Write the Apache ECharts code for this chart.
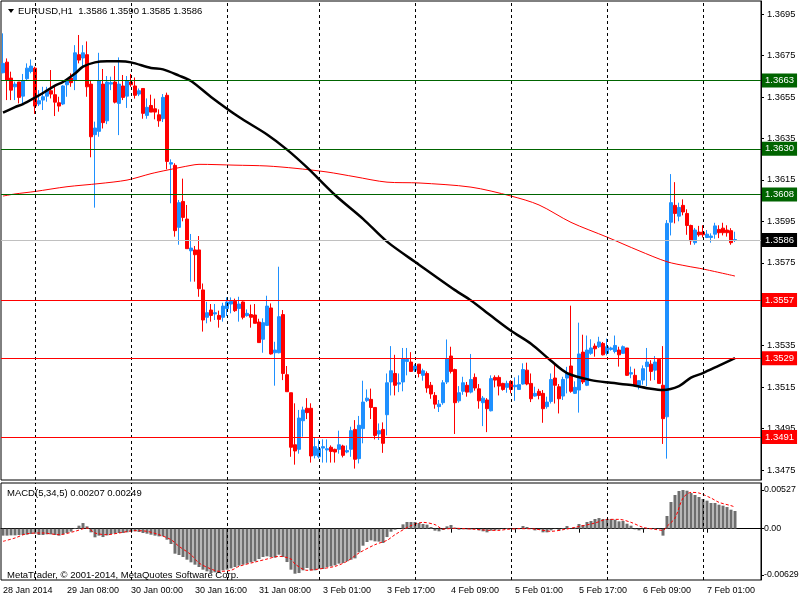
<!DOCTYPE html>
<html><head><meta charset="utf-8">
<script src="https://cdn.jsdelivr.net/npm/echarts@6/dist/echarts.min.js"></script>
<style>html,body{margin:0;padding:0;background:#fff}#c{width:800px;height:600px}</style>
</head><body><div id="c"></div>
<script>
// ---- OHLC (EURUSD H1), bar 0 = 28 Jan 16:00 ----
const opens=[1.36667,1.36718,1.36641,1.36599,1.36622,1.36554,1.36638,1.36673,1.36689,1.36516,
1.36535,1.36554,1.36580,1.36561,1.36522,1.36516,1.36609,1.36641,1.36632,1.36754,
1.36738,1.36754,1.36612,1.36368,1.36384,1.36612,1.36435,1.36612,1.36622,1.36519,
1.36603,1.36554,1.36622,1.36603,1.36564,1.36591,1.36461,1.36509,1.36493,1.36464,
1.36445,1.36558,1.36226,1.36220,1.35921,1.36046,1.35961,1.35808,1.35812,1.35812,
1.35619,1.35487,1.35522,1.35503,1.35496,1.35487,1.35529,1.35551,1.35564,1.35529,
1.35561,1.35495,1.35500,1.35498,1.35464,1.35381,1.35448,1.35532,1.35316,1.35316,
1.35500,1.35210,1.35123,1.34872,1.34850,1.34988,1.35048,1.35048,1.34821,1.34814,
1.34856,1.34847,1.34860,1.34850,1.34850,1.34866,1.34837,1.34850,1.34946,1.34805,
1.34950,1.35085,1.35091,1.35052,1.34924,1.34946,1.35017,1.35175,1.35216,1.35165,
1.35175,1.35274,1.35271,1.35232,1.35261,1.35207,1.35216,1.35159,1.35110,1.35056,
1.35075,1.35175,1.35300,1.35235,1.35084,1.35130,1.35159,1.35126,1.35197,1.35142,
1.35075,1.35088,1.35036,1.35197,1.35197,1.35168,1.35149,1.35178,1.35152,1.35139,
1.35165,1.35232,1.35168,1.35107,1.35130,1.35120,1.35056,1.35081,1.35194,1.35152,
1.35107,1.35194,1.35252,1.35120,1.35136,1.35319,1.35159,1.35313,1.35348,1.35345,
1.35361,1.35313,1.35332,1.35322,1.35329,1.35313,1.35339,1.35213,1.35207,1.35159,
1.35184,1.35249,1.35261,1.35232,1.35284,1.35159,1.35007,1.35946,1.36027,1.35975,
1.36027,1.35988,1.35930,1.35847,1.35898,1.35898,1.35872,1.35872,1.35888,1.35911,
1.35917,1.35908,1.35905,1.35860];
const highs=[1.36857,1.36736,1.36672,1.36624,1.36622,1.36661,1.36712,1.36731,1.36696,1.36583,
1.36599,1.36599,1.36680,1.36599,1.36551,1.36607,1.36632,1.36664,1.36800,1.36849,
1.36800,1.36818,1.36632,1.36431,1.36763,1.36685,1.36651,1.36648,1.36699,1.36741,
1.36656,1.36651,1.36661,1.36644,1.36591,1.36591,1.36543,1.36561,1.36542,1.36490,
1.36564,1.36571,1.36249,1.36230,1.36053,1.36156,1.36029,1.35889,1.35831,1.35879,
1.35650,1.35562,1.35551,1.35551,1.35519,1.35557,1.35583,1.35583,1.35577,1.35586,
1.35564,1.35525,1.35548,1.35551,1.35480,1.35482,1.35591,1.35554,1.35369,1.35731,
1.35522,1.35252,1.35123,1.35072,1.35040,1.35056,1.35097,1.35072,1.34908,1.34898,
1.34898,1.34898,1.34869,1.34853,1.34940,1.34872,1.34869,1.34959,1.34991,1.35011,
1.35181,1.35139,1.35143,1.35052,1.34975,1.34980,1.35216,1.35348,1.35306,1.35216,
1.35339,1.35339,1.35319,1.35261,1.35261,1.35239,1.35226,1.35175,1.35126,1.35088,
1.35184,1.35380,1.35345,1.35239,1.35155,1.35200,1.35175,1.35310,1.35216,1.35165,
1.35107,1.35097,1.35207,1.35207,1.35207,1.35171,1.35181,1.35184,1.35197,1.35207,
1.35265,1.35268,1.35216,1.35152,1.35142,1.35136,1.35104,1.35216,1.35265,1.35165,
1.35200,1.35248,1.35543,1.35178,1.35461,1.35403,1.35399,1.35381,1.35361,1.35393,
1.35368,1.35384,1.35345,1.35399,1.35345,1.35351,1.35339,1.35249,1.35239,1.35184,
1.35255,1.35339,1.35280,1.35300,1.35284,1.35348,1.35956,1.36178,1.36139,1.36040,
1.36056,1.36008,1.35934,1.35918,1.35928,1.35931,1.35908,1.35892,1.35943,1.35931,
1.35943,1.35931,1.35917,1.35900];
const lows=[1.36664,1.36535,1.36535,1.36535,1.36519,1.36513,1.36632,1.36664,1.36468,1.36506,
1.36487,1.36527,1.36543,1.36458,1.36479,1.36511,1.36551,1.36599,1.36583,1.36712,
1.36696,1.36551,1.36259,1.36016,1.36358,1.36398,1.36419,1.36583,1.36519,1.36366,
1.36535,1.36497,1.36599,1.36542,1.36554,1.36445,1.36445,1.36477,1.36442,1.36406,
1.36429,1.36201,1.36037,1.35876,1.35837,1.35950,1.35818,1.35659,1.35659,1.35586,
1.35418,1.35458,1.35466,1.35474,1.35437,1.35466,1.35493,1.35506,1.35513,1.35466,
1.35477,1.35490,1.35437,1.35458,1.35365,1.35316,1.35445,1.35307,1.35157,1.35313,
1.35184,1.35128,1.34814,1.34776,1.34829,1.34911,1.34996,1.34786,1.34806,1.34806,
1.34786,1.34786,1.34786,1.34786,1.34829,1.34811,1.34831,1.34814,1.34757,1.34782,
1.34879,1.35078,1.34996,1.34898,1.34895,1.34833,1.34917,1.35110,1.35110,1.35126,
1.35130,1.35207,1.35223,1.35223,1.35197,1.35181,1.35123,1.35094,1.35046,1.35030,
1.35065,1.35165,1.35216,1.34924,1.35075,1.35113,1.35104,1.35120,1.35133,1.35046,
1.34962,1.34933,1.35033,1.35149,1.35110,1.35133,1.35123,1.35120,1.35084,1.35136,
1.35162,1.35159,1.35078,1.35104,1.35091,1.34978,1.35046,1.35071,1.35071,1.35023,
1.35088,1.35120,1.35123,1.35117,1.35027,1.35165,1.35155,1.35306,1.35297,1.35339,
1.35303,1.35303,1.35326,1.35313,1.35249,1.35310,1.35204,1.35193,1.35159,1.35139,
1.35162,1.35155,1.35181,1.35184,1.35168,1.34876,1.34805,1.35882,1.35940,1.35950,
1.35979,1.35885,1.35837,1.35837,1.35876,1.35872,1.35869,1.35847,1.35866,1.35869,
1.35882,1.35876,1.35837,1.35850];
const closes=[1.36712,1.36632,1.36583,1.36612,1.36548,1.36628,1.36689,1.36699,1.36506,1.36532,
1.36551,1.36583,1.36564,1.36525,1.36506,1.36603,1.36632,1.36619,1.36763,1.36728,
1.36763,1.36599,1.36358,1.36400,1.36628,1.36426,1.36622,1.36619,1.36525,1.36612,
1.36548,1.36628,1.36609,1.36558,1.36580,1.36471,1.36500,1.36477,1.36477,1.36435,
1.36548,1.36239,1.36233,1.35905,1.36040,1.35969,1.35818,1.35821,1.35789,1.35625,
1.35474,1.35509,1.35496,1.35509,1.35477,1.35541,1.35561,1.35564,1.35519,1.35551,
1.35487,1.35506,1.35487,1.35458,1.35365,1.35461,1.35541,1.35310,1.35329,1.35490,
1.35216,1.35128,1.34860,1.34842,1.35001,1.35040,1.35027,1.34818,1.34863,1.34853,
1.34863,1.34853,1.34840,1.34837,1.34872,1.34821,1.34844,1.34940,1.34802,1.34966,
1.35078,1.35097,1.35052,1.34917,1.34940,1.34879,1.35171,1.35229,1.35159,1.35171,
1.35287,1.35284,1.35226,1.35252,1.35216,1.35229,1.35146,1.35117,1.35068,1.35068,
1.35171,1.35287,1.35226,1.35075,1.35123,1.35171,1.35126,1.35187,1.35146,1.35084,
1.35097,1.35046,1.35191,1.35184,1.35155,1.35139,1.35168,1.35139,1.35159,1.35162,
1.35235,1.35165,1.35094,1.35120,1.35110,1.35046,1.35078,1.35187,1.35159,1.35094,
1.35187,1.35216,1.35130,1.35149,1.35310,1.35175,1.35329,1.35339,1.35335,1.35368,
1.35306,1.35345,1.35339,1.35351,1.35306,1.35345,1.35207,1.35220,1.35159,1.35181,
1.35239,1.35271,1.35226,1.35271,1.35168,1.34998,1.35940,1.36040,1.35988,1.36017,
1.35995,1.35930,1.35856,1.35908,1.35885,1.35885,1.35888,1.35879,1.35928,1.35895,
1.35895,1.35895,1.35847,1.35862];

// moving averages read at selected bars: [barIndex, value]
const maBlack=[[0,1.36474],[3,1.36501],[5,1.36516],[8,1.36547],[10,1.36569],[13,1.36605],[15,1.36622],[18,1.36663],[20,1.36696],[23,1.36717],[26,1.36722],[29,1.36722],[32,1.36717],[37,1.36690],[40,1.36683],[44,1.36653],[47,1.36627],[52,1.36550],[59,1.36453],[66,1.36369],[71,1.36296],[76,1.36210],[83,1.36077],[90,1.35962],[96,1.35852],[104,1.35741],[113,1.35618],[117,1.35568],[122,1.35494],[127,1.35422],[132,1.35359],[137,1.35277],[141,1.35218],[147,1.35184],[152,1.35171],[157,1.35160],[162,1.35142],[165,1.35136],[169,1.35155],[172,1.35196],[175,1.35218],[179,1.35254],[183,1.35290]];
const maRed=[[0,1.36072],[3,1.36082],[8,1.36094],[16,1.36117],[24,1.36132],[31,1.36149],[37,1.36180],[41,1.36197],[47,1.36220],[49,1.36225],[58,1.36221],[66,1.36217],[73,1.36206],[81,1.36188],[88,1.36165],[96,1.36139],[104,1.36135],[117,1.36115],[127,1.36072],[134,1.36029],[142,1.35945],[151,1.35874],[159,1.35808],[166,1.35755],[171,1.35734],[175,1.35720],[183,1.35686]];

// MACD(5,34,5)
const macdMain=[-0.00095,-0.00095,-0.00091,-0.00091,-0.00086,-0.00086,-0.00082,-0.00073,-0.00068,-0.00086,
-0.00086,-0.00077,-0.00077,-0.00086,-0.00095,-0.00077,-0.00059,-0.00041,0.00009,0.00041,
0.00077,0.00032,-0.00050,-0.00118,-0.00095,-0.00114,-0.00091,-0.00073,-0.00068,-0.00059,
-0.00059,-0.00050,-0.00041,-0.00036,-0.00045,-0.00059,-0.00068,-0.00082,-0.00095,-0.00105,
-0.00105,-0.00150,-0.00209,-0.00341,-0.00359,-0.00386,-0.00423,-0.00459,-0.00491,-0.00523,
-0.00559,-0.00582,-0.00605,-0.00595,-0.00605,-0.00568,-0.00559,-0.00541,-0.00523,-0.00505,
-0.00491,-0.00477,-0.00459,-0.00445,-0.00414,-0.00386,-0.00377,-0.00386,-0.00395,-0.00355,
-0.00386,-0.00455,-0.00559,-0.00614,-0.00605,-0.00568,-0.00536,-0.00568,-0.00568,-0.00550,
-0.00550,-0.00523,-0.00514,-0.00500,-0.00477,-0.00468,-0.00445,-0.00423,-0.00405,-0.00323,
-0.00232,-0.00182,-0.00159,-0.00173,-0.00177,-0.00195,-0.00114,-0.00041,-0.00014,0.00002,
0.00059,0.00091,0.00091,0.00091,0.00077,0.00064,0.00055,0.00023,-0.00027,-0.00036,
-0.00018,0.00032,0.00050,0.00014,-0.00014,-0.00009,-0.00009,-0.00009,-0.00005,-0.00023,
-0.00036,-0.00050,-0.00027,-0.00023,-0.00014,-0.00005,0.00009,0.00003,-0.00009,0.00005,
0.00036,0.00023,-0.00005,-0.00023,-0.00018,-0.00050,-0.00050,-0.00023,-0.00005,-0.00027,
0.00009,0.00036,0.00005,0.00014,0.00064,0.00050,0.00091,0.00105,0.00132,0.00145,
0.00132,0.00132,0.00132,0.00123,0.00100,0.00105,0.00068,0.00041,-0.00009,-0.00023,
-0.00009,0.00005,0.00005,0.00009,-0.00005,-0.00095,0.00173,0.00364,0.00459,0.00514,
0.00527,0.00518,0.00486,0.00459,0.00432,0.00405,0.00382,0.00350,0.00350,0.00327,
0.00314,0.00295,0.00259,0.00241];
const macdSignal=[[0,-0.00173],[3,-0.00127],[6,-0.00068],[10,-0.00059],[14,-0.00082],[18,-0.00036],[21,0.00009],[23,-0.00059],[26,-0.00082],[29,-0.00059],[33,-0.00027],[36,-0.00036],[39,-0.00082],[42,-0.00150],[44,-0.00241],[47,-0.00355],[49,-0.00468],[52,-0.00550],[54,-0.00582],[57,-0.00568],[59,-0.00514],[63,-0.00455],[66,-0.00414],[69,-0.00377],[72,-0.00414],[73,-0.00482],[76,-0.00568],[79,-0.00550],[83,-0.00514],[86,-0.00445],[89,-0.00332],[93,-0.00218],[96,-0.00159],[98,-0.00082],[102,0.00041],[105,0.00086],[108,0.00055],[110,-0.00005],[113,0.00005],[118,-0.00009],[122,-0.00023],[124,-0.00023],[126,-0.00009],[129,0.00000],[133,-0.00005],[137,-0.00036],[140,-0.00014],[143,0.00018],[148,0.00077],[151,0.00127],[154,0.00127],[157,0.00086],[160,0.00018],[163,-0.00009],[165,-0.00023],[166,0.00032],[168,0.00145],[170,0.00418],[172,0.00495],[174,0.00486],[177,0.00418],[179,0.00359],[182,0.00314],[183,0.00295]];

// axes
const tickIndex=[0,16,32,48,64,80,96,112,128,144,160,176];
const tickLabels=['28 Jan 2014','29 Jan 08:00','30 Jan 00:00','30 Jan 16:00','31 Jan 08:00','3 Feb 01:00','3 Feb 17:00','4 Feb 09:00','5 Feb 01:00','5 Feb 17:00','6 Feb 09:00','7 Feb 01:00'];
const daySeparators=[8,32,56,79,103,127,151,175];
const priceTicks=[1.3475,1.3495,1.3515,1.3535,1.3555,1.3575,1.3595,1.3615,1.3635,1.3655,1.3675,1.3695];
const macdTicks=[-0.00629,0,0.00527];
const resistanceLevels=[1.3663,1.3630,1.3608];
const supportLevels=[1.3557,1.3529,1.3491];
const bidPrice=1.3586;
const emptyShiftBars=6;

const FONT='Liberation Sans';
const nBars=opens.length+emptyShiftBars;
const cats=[];for(let i=0;i<nBars;i++)cats.push(String(i));
const tickMap={};tickIndex.forEach((b,k)=>tickMap[b]=tickLabels[k]);
const candleData=opens.map((o,i)=>[o,closes[i],lows[i],highs[i]]);

const sepLine=(i)=>({xAxis:i,lineStyle:{color:'#000',type:[3,3],width:1},label:{show:false}});
const levelLine=(v,c,bg)=>({yAxis:v,lineStyle:{color:c,type:'solid',width:1},
  label:{show:true,position:'end',distance:1,formatter:()=>v.toFixed(4),backgroundColor:bg,color:'#fff',
  padding:[2,3,2,3],fontSize:9.5,fontFamily:FONT}});

const chart=echarts.init(document.getElementById('c'),null,{renderer:'canvas'});
chart.setOption({
  animation:false,
  backgroundColor:'#fff',
  grid:[
    {left:1,right:39,top:1,height:479,show:true,borderColor:'#000',borderWidth:1,backgroundColor:'#fff',outerBoundsMode:'none',containLabel:false},
    {left:1,right:39,top:483,height:97,show:true,borderColor:'#000',borderWidth:1,backgroundColor:'#fff',outerBoundsMode:'none',containLabel:false}
  ],
  xAxis:[
    {type:'category',gridIndex:0,data:cats,boundaryGap:true,axisLine:{show:false},axisTick:{show:false},axisLabel:{show:false},splitLine:{show:false}},
    {type:'category',gridIndex:1,data:cats,boundaryGap:true,
     axisLine:{show:true,lineStyle:{color:'#000'}},
     axisTick:{show:true,alignWithLabel:true,interval:(i)=>tickMap[i]!==undefined,length:4,lineStyle:{color:'#000'}},
     axisLabel:{interval:(i)=>tickMap[i]!==undefined,formatter:(v,i)=>tickMap[i]||'',align:'left',margin:6,fontSize:9,color:'#000',fontFamily:FONT},
     splitLine:{show:false}}
  ],
  yAxis:[
    {type:'value',gridIndex:0,position:'right',min:1.34702,max:1.37013,splitLine:{show:false},
     axisLine:{show:true,lineStyle:{color:'#000'}},
     axisTick:{show:true,length:3,customValues:priceTicks,lineStyle:{color:'#000'}},
     axisLabel:{customValues:priceTicks,formatter:v=>v.toFixed(4),margin:6,fontSize:9.3,color:'#000',fontFamily:FONT}},
    {type:'value',gridIndex:1,position:'right',min:-0.00700,max:0.00623,splitLine:{show:false},
     axisLine:{show:true,lineStyle:{color:'#000'}},
     axisTick:{show:true,length:3,customValues:macdTicks,lineStyle:{color:'#000'}},
     axisLabel:{customValues:macdTicks,formatter:v=>(Math.abs(v)<1e-9?'0.00':v.toFixed(5)),margin:3,fontSize:8.8,color:'#000',fontFamily:FONT}}
  ],
  series:[
    {type:'candlestick',xAxisIndex:0,yAxisIndex:0,data:candleData,barWidth:3,
     itemStyle:{color:'#1E90FF',color0:'#FF0000',borderColor:'#1E90FF',borderColor0:'#FF0000',borderWidth:1},
     markLine:{silent:true,symbol:['none','none'],animation:false,data:daySeparators.map(sepLine)}},
    {type:'line',xAxisIndex:0,yAxisIndex:0,data:maRed,showSymbol:false,smooth:0.3,lineStyle:{color:'#FF0000',width:1},z:3,
     markLine:{silent:true,symbol:['none','none'],animation:false,precision:4,
       data:[...resistanceLevels.map(v=>levelLine(v,'#006400','#006400')),
         ...supportLevels.map(v=>levelLine(v,'#FF0000','#FF0000')),
         levelLine(bidPrice,'#C0C0C0','#000000')]}},
    {type:'line',xAxisIndex:0,yAxisIndex:0,data:maBlack,showSymbol:false,smooth:0.3,lineStyle:{color:'#000',width:2.5},z:4},
    {type:'bar',xAxisIndex:1,yAxisIndex:1,data:macdMain,barWidth:3,itemStyle:{color:'#6E6E6E'},
     markLine:{silent:true,symbol:['none','none'],animation:false,data:daySeparators.map(sepLine)}},
    {type:'line',xAxisIndex:1,yAxisIndex:1,data:macdSignal,showSymbol:false,smooth:0.3,lineStyle:{color:'#FF0000',width:1,type:[3,2]},z:4}
  ],
  graphic:[
    {type:'polygon',shape:{points:[[8,9],[14,9],[11,13]]},style:{fill:'#000'},z:100},
    {type:'text',x:18,y:11,style:{text:'EURUSD,H1  1.3586 1.3590 1.3585 1.3586',font:'9.5px "Liberation Sans"',fill:'#000',verticalAlign:'middle'},z:100},
    {type:'text',x:7,y:493,style:{text:'MACD(5,34,5) 0.00207 0.00249',font:'9.5px "Liberation Sans"',fill:'#000',verticalAlign:'middle'},z:100},
    {type:'text',x:7,y:575,style:{text:'MetaTrader, © 2001-2014, MetaQuotes Software Corp.',font:'9.5px "Liberation Sans"',fill:'#000',verticalAlign:'middle'},z:100}
  ]
});
</script></body></html>
